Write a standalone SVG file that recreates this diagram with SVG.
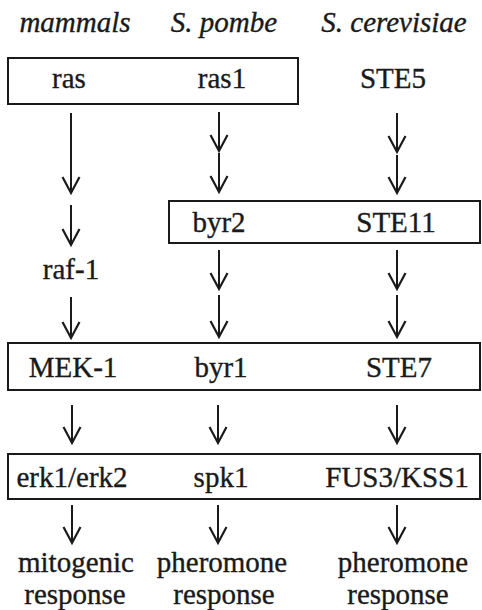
<svg xmlns="http://www.w3.org/2000/svg" width="482" height="610" viewBox="0 0 482 610" font-family="'Liberation Serif','DejaVu Serif',serif">
<style>
text{font-family:'Liberation Serif','DejaVu Serif',serif;font-size:29px;fill:#1a1a1a;stroke:#1a1a1a;stroke-width:0.35;text-anchor:middle}
.h{font-style:italic}
.box{fill:none;stroke:#1a1a1a;stroke-width:2}
.arr{stroke:#1a1a1a;stroke-width:2;fill:none;marker-end:url(#ah)}
</style>
<defs>
<marker id="ah" markerUnits="userSpaceOnUse" markerWidth="24" markerHeight="24" viewBox="-20 -12 24 24" refX="0" refY="0" orient="auto" overflow="visible">
<path d="M-16,-8.5 L0,0 L-16,8.5" fill="none" stroke="#1a1a1a" stroke-width="2.2"/>
</marker>
</defs>
<g id="headers">
<text class="h" x="75" y="32">mammals</text>
<text class="h" x="224" y="32">S. pombe</text>
<text class="h" x="394" y="32">S. cerevisiae</text>
</g>
<g id="box-ras">
<rect class="box" x="8" y="58" width="290" height="46"/>
<text x="69" y="88">ras</text>
<text x="222" y="88">ras1</text>
</g>
<g id="node-ste5"><text x="393" y="88">STE5</text></g>
<g id="box-byr2">
<rect class="box" x="169" y="201" width="311" height="42"/>
<text x="219" y="232">byr2</text>
<text x="396" y="232">STE11</text>
</g>
<g id="node-raf1"><text x="71" y="279">raf-1</text></g>
<g id="box-mek">
<rect class="box" x="8" y="343" width="472" height="47"/>
<text x="73" y="377">MEK-1</text>
<text x="221" y="377">byr1</text>
<text x="399" y="377">STE7</text>
</g>
<g id="box-erk">
<rect class="box" x="8" y="454" width="472" height="45"/>
<text x="72" y="487">erk1/erk2</text>
<text x="221" y="487">spk1</text>
<text x="397" y="487">FUS3/KSS1</text>
</g>
<g id="responses">
<text x="76" y="572">mitogenic</text>
<text x="75" y="604">response</text>
<text x="222" y="572">pheromone</text>
<text x="224" y="604">response</text>
<text x="403" y="572">pheromone</text>
<text x="398" y="604">response</text>
</g>
<g id="connectors">
<line class="arr" x1="71" y1="113" x2="71" y2="193"/>
<line class="arr" x1="71" y1="205" x2="71" y2="245"/>
<line class="arr" x1="71" y1="297" x2="71" y2="338"/>
<line class="arr" x1="72" y1="405" x2="72" y2="443"/>
<line class="arr" x1="72" y1="505" x2="72" y2="543"/>
<line class="arr" x1="219" y1="112" x2="219" y2="151"/>
<line class="arr" x1="219" y1="153" x2="219" y2="192"/>
<line class="arr" x1="219" y1="250" x2="219" y2="289"/>
<line class="arr" x1="219" y1="295" x2="219" y2="337"/>
<line class="arr" x1="218" y1="405" x2="218" y2="443"/>
<line class="arr" x1="218" y1="505" x2="218" y2="543"/>
<line class="arr" x1="397" y1="113" x2="397" y2="152"/>
<line class="arr" x1="397" y1="155" x2="397" y2="193"/>
<line class="arr" x1="397" y1="250" x2="397" y2="289"/>
<line class="arr" x1="397" y1="295" x2="397" y2="337"/>
<line class="arr" x1="397" y1="405" x2="397" y2="443"/>
<line class="arr" x1="397" y1="505" x2="397" y2="543"/>
</g>
</svg>
